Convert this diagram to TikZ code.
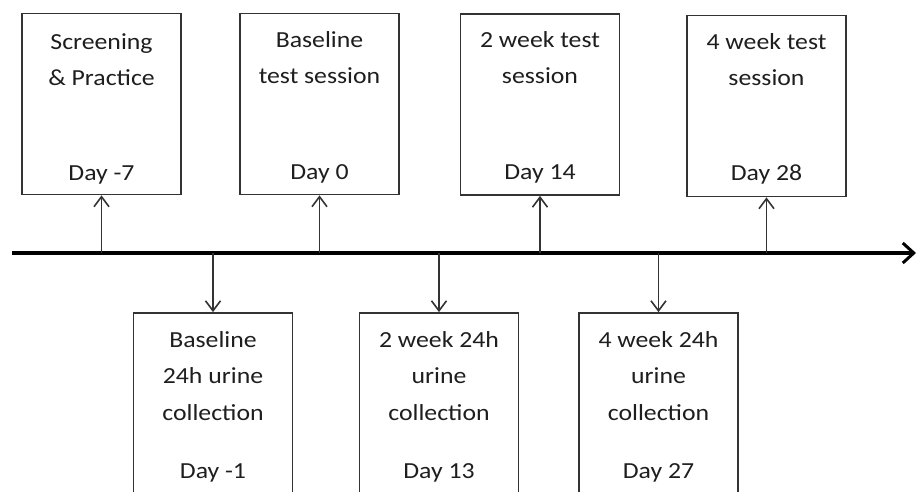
\documentclass[tikz,border=0pt]{standalone}
\usepackage{fontspec}
\setmainfont{Carlito}[FakeStretch=1.12]
\usetikzlibrary{arrows.meta}
\definecolor{boxc}{HTML}{333333}
\definecolor{txtc}{HTML}{1E1E1E}
\begin{document}
\begin{tikzpicture}[x=1pt,y=-1pt,
  box/.style={draw=boxc, line width=1.8pt, minimum width=159pt, minimum height=181pt, inner sep=0pt},
  lbl/.style={font=\fontsize{23}{27}\selectfont, text=txtc, anchor=base, inner sep=0pt},
  conn/.style={draw=boxc, line width=1.8pt, -{Straight Barb[length=10pt,width=15pt,line width=1.6pt]}},
  axis/.style={draw=black, line width=3.8pt, -{Straight Barb[length=11pt,width=20pt,line width=3pt]}}
]
\useasboundingbox (0,0) rectangle (919,491);
\clip (0,0) rectangle (919,491);

% top boxes
\node[box] (b1) at (101.5,104) {};
\node[box] (b2) at (319.5,104) {};
\node[box] (b3) at (540,104.5) {};
\node[box] (b4) at (766.5,106) {};

% bottom boxes (cut off by the lower edge)
\node[box, minimum height=210pt] (c1) at (213,418) {};
\node[box, minimum height=210pt] (c2) at (439,418) {};
\node[box, minimum height=210pt] (c3) at (658.5,418) {};

% timeline
\coordinate (ls) at (12,253);
\coordinate (le) at (916,253);
\draw[axis] (ls) -- (le);

% connectors
\draw[conn] (b1.south |- ls) -- (b1.south);
\draw[conn] (b2.south |- ls) -- (b2.south);
\draw[conn] (b3.south |- ls) -- (b3.south);
\draw[conn] (b4.south |- ls) -- (b4.south);
\draw[conn] (c1.north |- ls) -- (c1.north);
\draw[conn] (c2.north |- ls) -- (c2.north);
\draw[conn] (c3.north |- ls) -- (c3.north);

% top texts
\node[lbl] (t1a) at (101.5,49) {Screening};
\node[lbl] (t1b) at (101.5,85) {\& Practice};
\node[lbl] (t1c) at (101.5,180) {Day -7};

\node[lbl] (t2a) at (319.5,47) {Baseline};
\node[lbl] (t2b) at (319.5,83) {test session};
\node[lbl] (t2c) at (319.5,179) {Day 0};

\node[lbl] (t3a) at (540,47) {2 week test};
\node[lbl] (t3b) at (540,83) {session};
\node[lbl] (t3c) at (540,179) {Day 14};

\node[lbl] (t4a) at (766.5,49) {4 week test};
\node[lbl] (t4b) at (766.5,85) {session};
\node[lbl] (t4c) at (766.5,180) {Day 28};

% bottom texts
\node[lbl] (u1a) at (213,347) {Baseline};
\node[lbl] (u1b) at (213,383) {24h urine};
\node[lbl] (u1c) at (213,420) {collection};
\node[lbl] (u1d) at (213,478) {Day -1};

\node[lbl] (u2a) at (439,347) {2 week 24h};
\node[lbl] (u2b) at (439,383) {urine};
\node[lbl] (u2c) at (439,420) {collection};
\node[lbl] (u2d) at (439,478) {Day 13};

\node[lbl] (u3a) at (658.5,347) {4 week 24h};
\node[lbl] (u3b) at (658.5,383) {urine};
\node[lbl] (u3c) at (658.5,420) {collection};
\node[lbl] (u3d) at (658.5,478) {Day 27};
\end{tikzpicture}
\end{document}
